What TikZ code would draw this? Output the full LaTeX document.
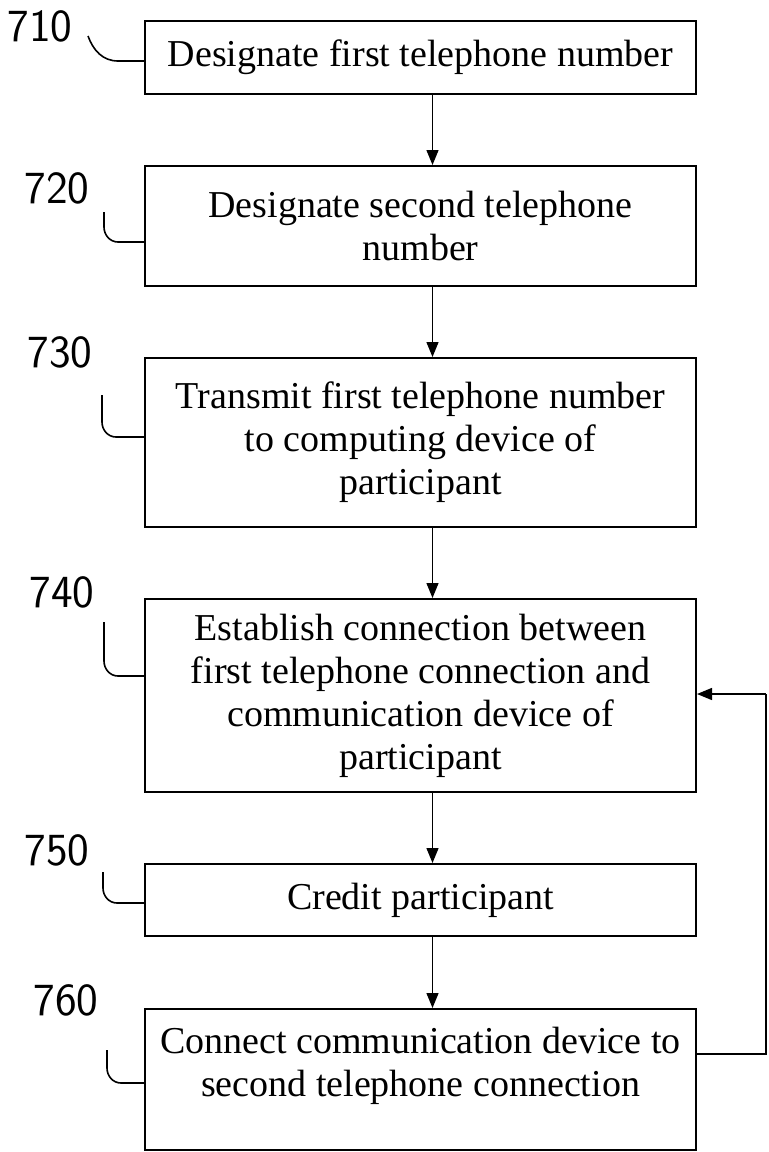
\documentclass[tikz,border=0pt]{standalone}
\usepackage{fontspec}
\setmainfont{Liberation Serif}
\usetikzlibrary{arrows.meta}

\begin{document}
\begin{tikzpicture}[x=0.5pt, y=-0.5pt,
    stepbox/.style={draw, line width=1pt, minimum width=275.5pt, inner sep=0pt,
      align=center, font=\fontsize{19}{21.5}\selectfont},
    flow/.style={line width=0.7pt, -{Triangle[length=7.5pt, width=6pt]}},
    refnum/.style={font=\sffamily\fontsize{23}{23}\selectfont},
    lead/.style={line width=0.8pt}]
  \useasboundingbox (0,0) rectangle (769,1152);

  \node[stepbox, minimum height=36.5pt] (n710) at (420.5,57.5) {Designate first telephone number};
  \node[stepbox, minimum height=60pt] (n720) at (420.5,226) {Designate second telephone\\ number};
  \node[stepbox, minimum height=84.5pt] (n730) at (420.5,442.5) {Transmit first telephone number\\ to computing device of\\ participant};
  \node[stepbox, minimum height=96.5pt] (n740) at (420.5,695.5) {Establish connection between\\ first telephone connection and\\ communication device of\\ participant};
  \node[stepbox, minimum height=36pt] (n750) at (420.5,900) {Credit participant};
  \node[stepbox, minimum height=70.5pt] (n760) at (420.5,1079.5) {Connect communication device to\\ second telephone connection\\[-10pt] \strut};

  \draw[flow] ([xshift=6pt]n710.south) -- ([xshift=6pt]n720.north);
  \draw[flow] ([xshift=6pt]n720.south) -- ([xshift=6pt]n730.north);
  \draw[flow] ([xshift=6pt]n730.south) -- ([xshift=6pt]n740.north);
  \draw[flow] ([xshift=6pt]n740.south) -- ([xshift=6pt]n750.north);
  \draw[flow] ([xshift=6pt]n750.south) -- ([xshift=6pt]n760.north);

  % loop back
  \coordinate (ret) at (766,694);
  \draw[line width=0.7pt] ([yshift=12.75pt]n760.east) -| (ret);
  \draw[flow] (ret) -- (n740.east |- ret);

  % reference numerals
  \node[refnum] (l710) at (40,26) {710};
  \node[refnum] (l720) at (57,188) {720};
  \node[refnum] (l730) at (60,352) {730};
  \node[refnum] (l740) at (62,592) {740};
  \node[refnum] (l750) at (57,850) {750};
  \node[refnum] (l760) at (66,1000) {760};

  \coordinate (h710) at (88,36);
  \coordinate (h720) at (104,212);
  \coordinate (h730) at (102,395);
  \coordinate (h740) at (104,622);
  \coordinate (h750) at (103,872);
  \coordinate (h760) at (107,1050);
  \draw[lead] (h710) to[out=-70,in=180] ++(30,25) -- (n710.west |- 0,61);
  \draw[lead] (h720) -- ++(0,15) to[out=-90,in=180] ++(14,15) -- (n720.west |- 0,242);
  \draw[lead] (h730) -- ++(0,27) to[out=-90,in=180] ++(14,15) -- (n730.west |- 0,437);
  \draw[lead] (h740) -- ++(0,39) to[out=-90,in=180] ++(14,15) -- (n740.west |- 0,676);
  \draw[lead] (h750) -- ++(0,16) to[out=-90,in=180] ++(14,15) -- (n750.west |- 0,903);
  \draw[lead] (h760) -- ++(0,18) to[out=-90,in=180] ++(14,15) -- (n760.west |- 0,1083);
\end{tikzpicture}
\end{document}
